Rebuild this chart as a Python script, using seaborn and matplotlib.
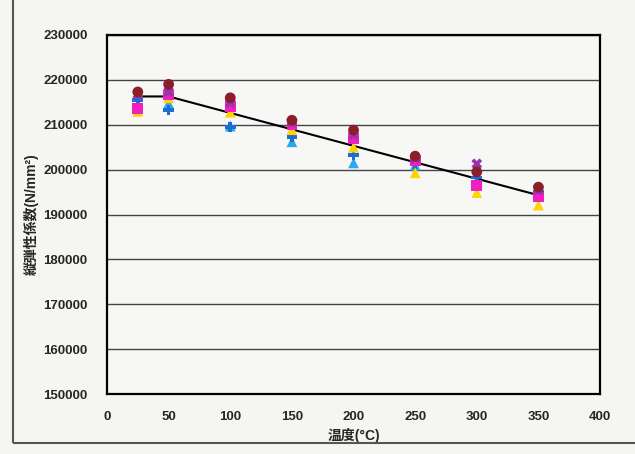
import pandas as pd
import matplotlib.pyplot as plt
from matplotlib.patches import Rectangle
import seaborn as sns

sns.set_theme(style="white")
plt.rcParams['font.family'] = ['Liberation Sans', 'Noto Sans CJK JP', 'DejaVu Sans']

# temperatures (deg C) and measured modulus for each specimen
temps = [25, 50, 100, 150, 200, 250, 300, 350]
s_cyan = [214500, 214800, 209700, 206200, 201500, 201000, 197300, 194500]
s_blue = [215500, 213300, 209500, 207300, 203300, 201300, 198200, 195000]
s_yellow = [213000, 216000, 212800, 208900, 205000, 199300, 194900, 192100]
s_magenta = [213700, 216600, 214000, 210000, 207000, 201900, 196500, 193900]
s_purple = [216800, 217300, 214900, 210500, 207800, 202500, 201300, 195500]
s_red = [217300, 219000, 216000, 211000, 208800, 203000, 199500, 196100]

# mean line
line_temps = [25, 50, 350]
line_vals = [216300, 216300, 194300]

series = {
    'A': s_cyan, 'B': s_blue, 'C': s_yellow,
    'D': s_magenta, 'E': s_purple, 'F': s_red,
}
colors = {'A': '#2aa8f0', 'B': '#1a6fd0', 'C': '#ffd200',
          'D': '#f020c0', 'E': '#9933aa', 'F': '#8b1e2a'}
markers = {'A': '^', 'B': 'P', 'C': '^', 'D': 's', 'E': 'X', 'F': 'o'}

rows = []
for name, vals in series.items():
    for t, v in zip(temps, vals):
        rows.append({'temp': t, 'E': v, 'sp': name})
df = pd.DataFrame(rows)

fig = plt.figure(figsize=(6.35, 4.54), dpi=100, facecolor='#f5f5f2')
ax = fig.add_axes([0.1685, 0.132, 0.7765, 0.791])
ax.set_facecolor('#f7f7f5')

# chart area border
fig.patches.append(Rectangle((13 / 635, 11 / 454), 1.0, 1.0, transform=fig.transFigure,
                             fill=False, edgecolor='#555555', linewidth=1.5))

sns.lineplot(x=line_temps, y=line_vals, ax=ax, color='black', linewidth=1.5, zorder=3)
sns.scatterplot(data=df, x='temp', y='E', hue='sp', style='sp', palette=colors,
                markers=markers, s=60, edgecolor='none', ax=ax, legend=False, zorder=4)

ax.set_xlim(0, 400)
ax.set_ylim(150000, 230000)
ax.set_xticks(range(0, 401, 50))
ax.set_yticks(range(150000, 230001, 10000))
ax.yaxis.grid(True, color='#444444', linewidth=1.0)
ax.xaxis.grid(False)
for sp in ax.spines.values():
    sp.set_color('black')
    sp.set_linewidth(1.6)

ax.tick_params(axis='y', direction='out', length=4, width=1, pad=10, labelsize=9.5)
ax.tick_params(axis='x', direction='in', length=4, width=1, pad=12, labelsize=9.5)
for lab in ax.get_xticklabels() + ax.get_yticklabels():
    lab.set_fontweight('bold')

ax.set_xlabel('温度(°C)', fontsize=10, fontweight='bold', labelpad=4)
ax.set_ylabel('縦弾性係数(N/mm²)', fontsize=10, fontweight='bold', labelpad=3)

plt.savefig('out.png', dpi=100, facecolor=fig.get_facecolor())
plt.close()
